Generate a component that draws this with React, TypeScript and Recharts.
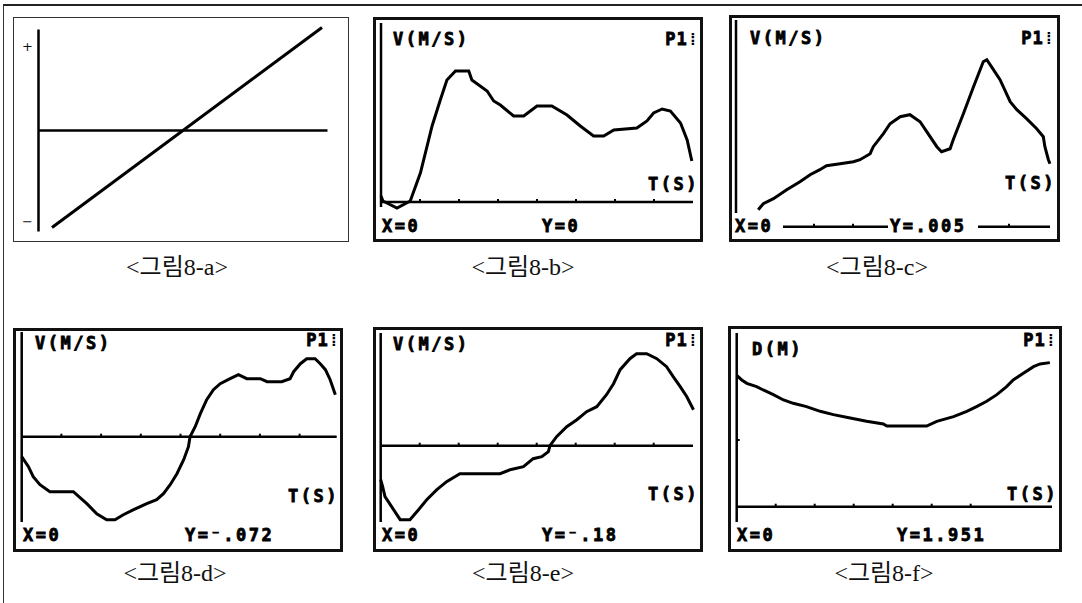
import React from 'react'
import { LineChart, Line, XAxis, YAxis, ReferenceLine } from 'recharts'

// <그림8-a>  schematic: straight line through zero
const aTime = [0.5, 10.5]
const aValue = [-0.97, 1.03]

// <그림8-b>  V(M/S) vs T(S)
const bTime = [0, 0.05, 0.41, 0.75, 1.01, 1.31, 1.52, 1.69, 1.91, 2.25, 2.33, 2.72, 2.89, 3.06, 3.4, 3.66, 4.0, 4.38, 4.77, 5.11, 5.45, 5.71, 5.97, 6.56, 6.82, 6.99, 7.21, 7.42, 7.68, 7.85, 7.97]
const bVel = [0.06, 0.01, -0.06, 0.01, 0.29, 0.76, 1.02, 1.22, 1.31, 1.31, 1.22, 1.11, 1.01, 0.97, 0.86, 0.86, 0.96, 0.96, 0.87, 0.76, 0.66, 0.66, 0.72, 0.74, 0.81, 0.89, 0.93, 0.91, 0.79, 0.62, 0.41]

// <그림8-c>
const cTime = [0.57, 0.7, 0.96, 1.3, 1.64, 1.9, 2.15, 2.32, 2.67, 3.01, 3.18, 3.44, 3.52, 3.78, 3.95, 4.21, 4.46, 4.72, 4.89, 5.15, 5.27, 5.49, 5.57, 5.83, 6.09, 6.34, 6.43, 6.6, 6.77, 7.03, 7.2, 7.45, 7.71, 7.88, 7.92, 8.01, 8.05]
const cVel = [0.17, 0.23, 0.28, 0.37, 0.45, 0.52, 0.57, 0.61, 0.63, 0.65, 0.67, 0.73, 0.8, 0.93, 1.03, 1.1, 1.12, 1.05, 0.95, 0.8, 0.75, 0.78, 0.87, 1.13, 1.4, 1.65, 1.67, 1.57, 1.47, 1.25, 1.17, 1.08, 0.98, 0.9, 0.8, 0.67, 0.63]

// <그림8-d>
const dTime = [0, 0.17, 0.29, 0.46, 0.71, 1.3, 1.64, 1.89, 2.14, 2.35, 2.56, 2.82, 3.15, 3.4, 3.57, 3.74, 3.91, 4.08, 4.2, 4.24, 4.37, 4.5, 4.66, 4.83, 5.0, 5.25, 5.46, 5.67, 6.01, 6.18, 6.55, 6.76, 6.85, 7.02, 7.18, 7.39, 7.52, 7.65, 7.77, 7.9]
const dVel = [-0.2, -0.3, -0.4, -0.48, -0.55, -0.55, -0.67, -0.77, -0.83, -0.83, -0.78, -0.73, -0.67, -0.63, -0.57, -0.48, -0.37, -0.23, -0.1, 0, 0.1, 0.23, 0.37, 0.47, 0.53, 0.58, 0.62, 0.58, 0.58, 0.55, 0.55, 0.58, 0.65, 0.73, 0.78, 0.78, 0.73, 0.67, 0.57, 0.42]

// <그림8-e>
const eTime = [0, 0.05, 0.11, 0.28, 0.5, 0.75, 0.97, 1.18, 1.44, 1.69, 2.03, 3.06, 3.32, 3.66, 3.91, 4.13, 4.3, 4.34, 4.51, 4.77, 5.03, 5.28, 5.54, 5.79, 5.97, 6.14, 6.39, 6.56, 6.82, 7.08, 7.33, 7.5, 7.68, 7.85, 8.02]
const eVel = [-0.34, -0.41, -0.51, -0.61, -0.74, -0.74, -0.64, -0.54, -0.44, -0.36, -0.28, -0.28, -0.24, -0.21, -0.13, -0.11, -0.06, 0, 0.09, 0.19, 0.26, 0.34, 0.39, 0.51, 0.62, 0.76, 0.87, 0.92, 0.92, 0.87, 0.79, 0.69, 0.59, 0.49, 0.36]

// <그림8-f>  D(M) vs T(S)
const fTime = [0, 0.13, 0.26, 0.51, 0.68, 0.94, 1.2, 1.45, 1.79, 2.14, 2.48, 2.91, 3.33, 3.76, 3.85, 4.87, 5.13, 5.56, 5.9, 6.15, 6.41, 6.67, 6.92, 7.09, 7.35, 7.61, 7.78, 8.03]
const fDist = [1.97, 1.9, 1.85, 1.8, 1.75, 1.68, 1.6, 1.55, 1.5, 1.43, 1.38, 1.33, 1.28, 1.24, 1.21, 1.21, 1.28, 1.35, 1.43, 1.5, 1.58, 1.68, 1.8, 1.9, 2.0, 2.1, 2.14, 2.16]

const tickIdx = [1, 2, 3, 4, 5, 6, 7]

const rows = (ts: number[], vs: number[]) => ts.map((t, i) => ({ t, v: vs[i] }))

type Txt = { s: string; x: number; y: number; end?: boolean; plain?: boolean }
type Panel = {
  box: [number, number, number, number]
  border: number
  ox: number
  oy: number
  ux: number
  uy: number
  vAxis: [number, number]
  hAxis: [number, number][]
  ticks: number[]
  yTicks?: number[]
  lineW: number
  data: { t: number; v: number }[]
  texts: Txt[]
  caption: string
  capX: number
  capY: number
}

const mono = "'DejaVu Sans Mono', 'Liberation Mono', monospace"

const panels: Panel[] = [
  {
    box: [13, 17, 336, 225], border: 1.5, ox: 39, oy: 131, ux: 27, uy: 100,
    vAxis: [30, 232], hAxis: [[39, 328]], ticks: [], lineW: 3,
    data: rows(aTime, aValue),
    texts: [
      { s: '+', x: 28, y: 47, plain: true },
      { s: '−', x: 28, y: 222, plain: true },
    ],
    caption: '<그림8-a>', capX: 177, capY: 267,
  },
  {
    box: [373, 17, 330, 225], border: 3, ox: 381, oy: 202, ux: 39, uy: 100,
    vAxis: [23, 207], hAxis: [[381, 693]], ticks: tickIdx, lineW: 3,
    data: rows(bTime, bVel),
    texts: [
      { s: 'V(M/S)', x: 393, y: 33 },
      { s: 'P1⁞', x: 699, y: 33, end: true },
      { s: 'T(S)', x: 648, y: 178 },
      { s: 'X=0', x: 382, y: 220 },
      { s: 'Y=0', x: 542, y: 220 },
    ],
    caption: '<그림8-b>', capX: 523, capY: 267,
  },
  {
    box: [729, 15, 331, 227], border: 3, ox: 736, oy: 226.7, ux: 39, uy: 100,
    vAxis: [20, 213], hAxis: [[783, 888], [978, 1050]], ticks: [2, 3, 7], lineW: 3,
    data: rows(cTime, cVel),
    texts: [
      { s: 'V(M/S)', x: 750, y: 32 },
      { s: 'P1⁞', x: 1055, y: 32, end: true },
      { s: 'T(S)', x: 1005, y: 177 },
      { s: 'X=0', x: 735, y: 220 },
      { s: 'Y=.005', x: 890, y: 220 },
    ],
    caption: '<그림8-c>', capX: 877, capY: 267,
  },
  {
    box: [13, 328, 330, 224], border: 3, ox: 21.7, oy: 436.7, ux: 39.7, uy: 100,
    vAxis: [332, 522], hAxis: [[21.7, 336.7]], ticks: tickIdx, lineW: 3,
    data: rows(dTime, dVel),
    texts: [
      { s: 'V(M/S)', x: 35, y: 337 },
      { s: 'P1⁞', x: 340, y: 334, end: true },
      { s: 'T(S)', x: 288, y: 490 },
      { s: 'X=0', x: 23, y: 529 },
      { s: 'Y=⁻.072', x: 185, y: 529 },
    ],
    caption: '<그림8-d>', capX: 175, capY: 573,
  },
  {
    box: [373, 327, 330, 225], border: 3, ox: 380.7, oy: 445.7, ux: 39, uy: 100,
    vAxis: [333, 522], hAxis: [[381, 693]], ticks: tickIdx, lineW: 3,
    data: rows(eTime, eVel),
    texts: [
      { s: 'V(M/S)', x: 393, y: 338 },
      { s: 'P1⁞', x: 699, y: 334, end: true },
      { s: 'T(S)', x: 648, y: 488 },
      { s: 'X=0', x: 382, y: 529 },
      { s: 'Y=⁻.18', x: 542, y: 529 },
    ],
    caption: '<그림8-e>', capX: 523, capY: 573,
  },
  {
    box: [728, 326, 334, 226], border: 3, ox: 736.7, oy: 506.7, ux: 39, uy: 66.7,
    vAxis: [333, 522], hAxis: [[737, 1052]], ticks: [1, 2, 3, 4, 5, 6], yTicks: [1], lineW: 3,
    data: rows(fTime, fDist),
    texts: [
      { s: 'D(M)', x: 752, y: 343 },
      { s: 'P1⁞', x: 1057, y: 334, end: true },
      { s: 'T(S)', x: 1007, y: 488 },
      { s: 'X=0', x: 737, y: 529 },
      { s: 'Y=1.951', x: 897, y: 529 },
    ],
    caption: '<그림8-f>', capX: 884, capY: 573,
  },
]

function Screen({ p }: { p: Panel }) {
  const [bx, by, bw, bh] = p.box
  const L = bx + p.border
  const T = by + p.border
  const W = bw - 2 * p.border
  const H = bh - 2 * p.border
  const xd = [(L - p.ox) / p.ux, (L + W - p.ox) / p.ux]
  const yd = [(p.oy - T - H) / p.uy, (p.oy - T) / p.uy]
  const toT = (x: number) => (x - p.ox) / p.ux
  const toV = (y: number) => (p.oy - y) / p.uy
  const isCalc = p.border > 2
  return (
    <>
      <div
        style={{
          position: 'absolute', left: bx, top: by, width: bw, height: bh,
          boxSizing: 'border-box', border: `${p.border}px solid ${isCalc ? '#111' : '#333'}`, background: '#fff',
        }}
      >
        <div style={{ position: 'absolute', left: 0, top: 0 }}>
          <LineChart width={W} height={H} data={p.data} margin={{ top: 0, right: 0, bottom: 0, left: 0 }}>
            <XAxis type="number" dataKey="t" domain={xd} hide allowDataOverflow height={0} />
            <YAxis type="number" domain={yd} hide allowDataOverflow width={0} />
            <ReferenceLine
              segment={[{ x: 0, y: toV(p.vAxis[0]) }, { x: 0, y: toV(p.vAxis[1]) }]}
              stroke="#000" strokeWidth={2.5}
            />
            {p.hAxis.map(([a, b], i) => (
              <ReferenceLine key={'h' + i} segment={[{ x: toT(a), y: 0 }, { x: toT(b), y: 0 }]} stroke="#000" strokeWidth={2.5} />
            ))}
            {p.ticks.map((k) => (
              <ReferenceLine key={'t' + k} segment={[{ x: k, y: 0 }, { x: k, y: 3 / p.uy }]} stroke="#000" strokeWidth={2} />
            ))}
            {(p.yTicks || []).map((k) => (
              <ReferenceLine key={'y' + k} segment={[{ x: toT(p.ox + 3), y: k }, { x: 0, y: k }]} stroke="#000" strokeWidth={2} />
            ))}
            <Line type="linear" dataKey="v" stroke="#000" strokeWidth={p.lineW} dot={false} isAnimationActive={false} />
          </LineChart>
        </div>
        {p.texts.map((t, i) =>
          t.plain ? (
            <span
              key={i}
              style={{
                position: 'absolute', left: t.x - L - 8, top: t.y - T - 8, width: 16, height: 16,
                lineHeight: '16px', textAlign: 'center', fontFamily: "'DejaVu Sans', sans-serif", fontSize: 13, color: '#111',
              }}
            >
              {t.s}
            </span>
          ) : (
            <span
              key={i}
              style={{
                position: 'absolute',
                top: t.y - T - 2,
                ...(t.end ? { right: L + W - t.x } : { left: t.x - L }),
                fontFamily: mono, fontWeight: 'bold', fontSize: 17, lineHeight: '17px',
                letterSpacing: t.end ? 1 : 2.5, color: '#000', whiteSpace: 'nowrap',
              }}
            >
              {t.end ? (
                <>
                  <span style={{ WebkitTextStroke: '0.8px #000' }}>{t.s.slice(0, -1)}</span>
                  <span>{t.s.slice(-1)}</span>
                </>
              ) : (
                <span style={{ WebkitTextStroke: '0.8px #000' }}>{t.s}</span>
              )}
            </span>
          ),
        )}
      </div>
      <div
        style={{
          position: 'absolute', left: p.capX - 100, top: p.capY - 13, width: 200, height: 26,
          lineHeight: '26px', textAlign: 'center', fontFamily: "'Liberation Serif', 'Noto Sans CJK KR', serif",
          fontSize: 24, color: '#111', whiteSpace: 'nowrap',
        }}
      >
        {p.caption}
      </div>
    </>
  )
}

export default function App() {
  return (
    <div style={{ position: 'absolute', left: 0, top: 0, width: 1082, height: 603, background: '#fff', overflow: 'hidden' }}>
      <div
        style={{
          position: 'absolute', left: 3, top: 4, width: 1079, height: 599,
          borderTop: '2px solid #222', borderLeft: '1.5px solid #333', boxSizing: 'border-box',
        }}
      />
      {panels.map((p, i) => (
        <Screen key={i} p={p} />
      ))}
    </div>
  )
}
